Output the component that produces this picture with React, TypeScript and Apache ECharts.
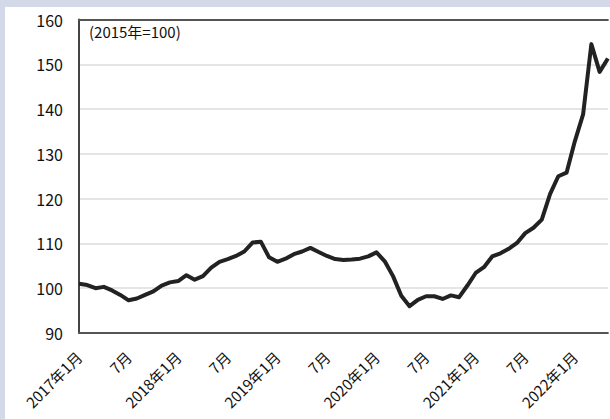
import React, { useEffect, useRef } from "react";
import * as echarts from "echarts";

// Monthly index, January 2017 to May 2022 (2015 = 100)
const months: string[] = [];
for (let y = 2017; y <= 2022; y++) {
  for (let m = 1; m <= 12; m++) {
    if (y === 2022 && m > 5) break;
    months.push(`${y}-${m}`);
  }
}

const indexValues: number[] = [
  // 2017
  101.0, 100.7, 100.0, 100.3, 99.5, 98.5, 97.3, 97.7, 98.5, 99.3, 100.6, 101.3,
  // 2018
  101.6, 102.9, 101.9, 102.7, 104.6, 105.9, 106.5, 107.2, 108.2, 110.2, 110.4, 106.9,
  // 2019
  105.9, 106.6, 107.6, 108.2, 109.0, 108.1, 107.2, 106.5, 106.3, 106.4, 106.6, 107.1,
  // 2020
  108.0, 106.0, 102.7, 98.3, 96.0, 97.4, 98.2, 98.2, 97.6, 98.4, 98.0, 100.6,
  // 2021
  103.4, 104.7, 107.1, 107.8, 108.8, 110.1, 112.3, 113.5, 115.3, 121.0, 125.0, 125.8,
  // 2022
  132.8, 138.8, 154.5, 148.3, 151.3,
];

const yTicks = { min: 90, max: 160, interval: 10 };
const unitNote = "(2015年=100)";

// January shows the year, July shows the month only
function monthLabel(key: string): string {
  const [y, m] = key.split("-");
  if (m === "1") return `${y}年1月`;
  if (m === "7") return "7月";
  return "";
}

const FONT = "'Noto Sans CJK JP', 'Noto Sans', sans-serif";

export default function App() {
  const ref = useRef<HTMLDivElement>(null);

  useEffect(() => {
    if (!ref.current) return;
    const chart = echarts.init(ref.current, undefined, { renderer: "svg" });
    chart.setOption({
      animation: false,
      backgroundColor: "#d3d9e8",
      graphic: [
        {
          type: "rect",
          z: -10,
          shape: { x: 5, y: 7, width: 620, height: 430 },
          style: { fill: "#ffffff" },
          silent: true,
        },
        {
          type: "text",
          left: 89,
          top: 24,
          style: {
            text: unitNote,
            font: `15px ${FONT}`,
            fill: "#111111",
          },
        },
      ],
      grid: {
        left: 79,
        right: -2,
        top: 19.5,
        bottom: 86,
        show: false,
      },
      xAxis: [
        {
          type: "category",
          data: months,
          boundaryGap: false,
          axisLine: { show: true, lineStyle: { color: "#555555", width: 2 } },
          axisTick: { show: false },
          splitLine: { show: false },
          axisLabel: {
            interval: 0,
            rotate: 45,
            margin: 21,
            fontFamily: FONT,
            fontSize: 15,
            color: "#111111",
            formatter: (v: string) => monthLabel(v),
          },
        },
        {
          // top frame of the plot
          type: "category",
          data: months,
          boundaryGap: false,
          position: "top",
          axisLine: { show: true, lineStyle: { color: "#555555", width: 2 } },
          axisTick: { show: false },
          axisLabel: { show: false },
          splitLine: { show: false },
        },
      ],
      yAxis: {
        type: "value",
        min: yTicks.min,
        max: yTicks.max,
        interval: yTicks.interval,
        axisLine: { show: true, lineStyle: { color: "#444444", width: 2 } },
        axisTick: { show: false },
        splitLine: { show: true, lineStyle: { color: "#dcdcdc", width: 1.5 } },
        axisLabel: {
          margin: 16,
          fontFamily: FONT,
          fontSize: 16,
          color: "#111111",
        },
      },
      series: [
        {
          type: "line",
          data: indexValues,
          symbol: "none",
          lineStyle: { color: "#222222", width: 4, join: "round" },
          clip: true,
        },
      ],
    });
    return () => chart.dispose();
  }, []);

  return (
    <div
      ref={ref}
      style={{ position: "fixed", left: 0, top: 0, width: 610, height: 419 }}
    />
  );
}
